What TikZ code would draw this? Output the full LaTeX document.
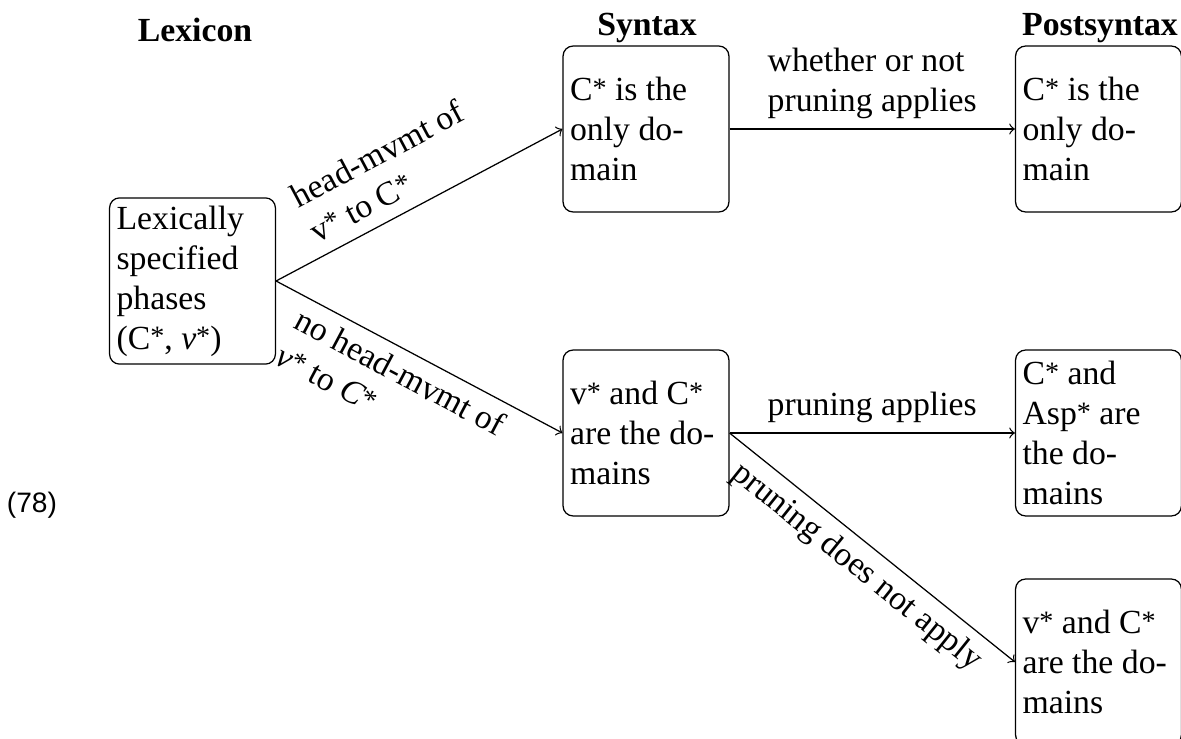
\documentclass[tikz,border=0pt]{standalone}
\usepackage{fontspec}
\setmainfont{Liberation Serif}
\setsansfont{Liberation Sans}
\newcommand\sta{\raisebox{0.1em}{\small *}}
\begin{document}
\begin{tikzpicture}[x=0.32pt,y=-0.32pt,
  txt/.style={font=\fontsize{10.8}{12.8}\selectfont},
  box/.style={txt, draw, line width=0.4pt, rounded corners=3.2pt, align=flush left,
    text width=48.6pt, inner xsep=2.24pt, inner ysep=2.5pt, minimum height=53.1pt},
  lbl/.style={txt, align=flush left, inner sep=3pt},
  hdr/.style={font=\fontsize{10.8}{12.8}\selectfont\bfseries},
  arr/.style={->, line width=0.4pt}]
\useasboundingbox (0,0) rectangle (1181,739);

\node[hdr] (hlex) at (195,30) {Lexicon};
\node[hdr] (hsyn) at (647,28) {Syntax};
\node[hdr] (hpost) at (1100,28) {Postsyntax};

\node[font=\sffamily\fontsize{9}{11}\selectfont] (ex) at (32,505) {(78)};

\node[box] (lex) at (192.5,281) {Lexically\\specified\\phases\\(C\sta, \textit{v}\sta)};
\node[box] (syn1) at (646,129) {C\sta{} is the\\only do-\\main};
\node[box] (syn2) at (646,433) {v\sta{} and C\sta\\are the do-\\mains};
\node[box] (post1) at (1098.5,129) {C\sta{} is the\\only do-\\main};
\node[box] (post2) at (1098.5,433) {C\sta{} and\\Asp\sta{} are\\the do-\\mains};
\node[box] (post3) at (1098.5,662) {v\sta{} and C\sta\\are the do-\\mains};

\draw[arr] (lex.east) -- node[lbl, sloped, above, pos=0.46, inner sep=4pt] {head-mvmt of\\v\sta{} to C\sta} (syn1.west);
\draw[arr] (lex.east) -- node[lbl, sloped, below, pos=0.47] {no head-mvmt of\\\textit{v}\sta{} to \textit{C}\sta} (syn2.west);
\draw[arr] (syn1.east) -- node[lbl, above] {whether or not\\pruning applies} (post1.west);
\draw[arr] (syn2.east) -- node[lbl, above] {pruning applies} (post2.west);
\draw[arr] (syn2.east) -- node[lbl, sloped, below] {pruning does not apply} (post3.west);
\end{tikzpicture}
\end{document}
